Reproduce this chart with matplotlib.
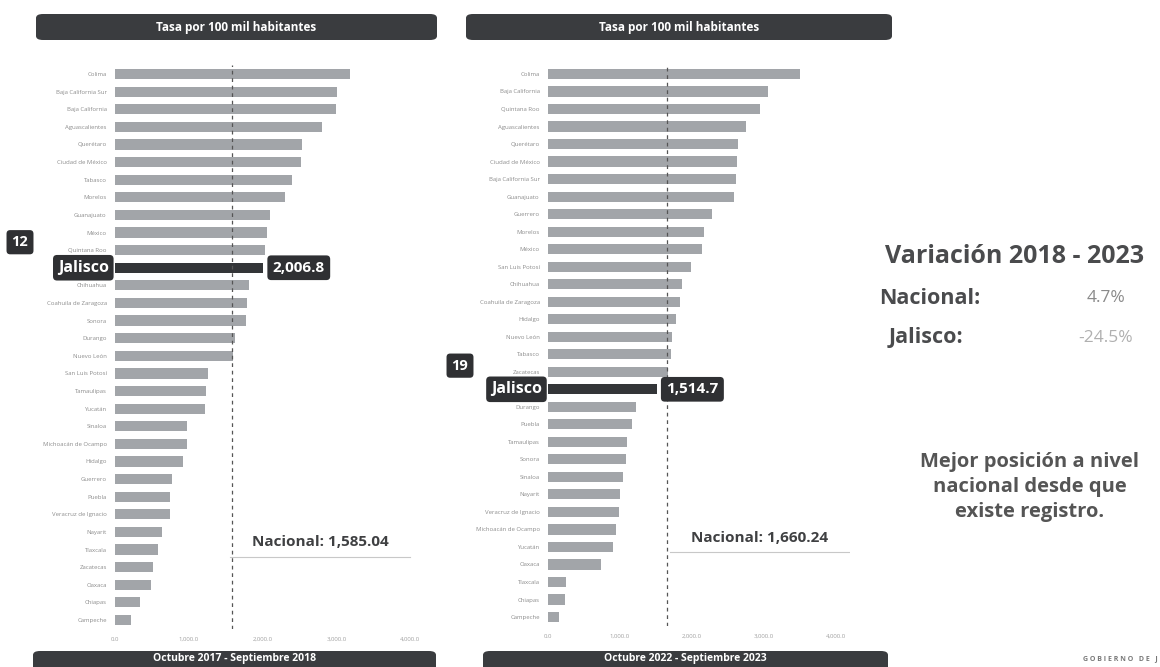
import numpy as np
import matplotlib.pyplot as plt
from matplotlib.patches import FancyBboxPatch
from matplotlib.transforms import blended_transform_factory

plt.rcParams['font.family'] = ['Open Sans', 'DejaVu Sans']

# DATOS - Oct 2017 - Sep 2018
estados_2018 = ["Colima", "Baja California Sur", "Baja California", "Aguascalientes",
                "Querétaro", "Ciudad de México", "Tabasco", "Morelos", "Guanajuato",
                "México", "Quintana Roo", "Jalisco", "Chihuahua", "Coahuila de Zaragoza",
                "Sonora", "Durango", "Nuevo León", "San Luis Potosí", "Tamaulipas",
                "Yucatán", "Sinaloa", "Michoacán de Ocampo", "Hidalgo", "Guerrero",
                "Puebla", "Veracruz de Ignacio", "Nayarit", "Tlaxcala", "Zacatecas",
                "Oaxaca", "Chiapas", "Campeche"]
tasa_2018 = [3190, 3010, 2990, 2800, 2530, 2520, 2400, 2300, 2100, 2060, 2030, 2006.8,
             1820, 1790, 1770, 1630, 1600, 1260, 1230, 1220, 970, 970, 920, 770,
             750, 740, 630, 580, 510, 490, 340, 220]
nacional_2018 = 1585.04

# DATOS - Oct 2022 - Sep 2023
estados_2023 = ["Colima", "Baja California", "Quintana Roo", "Aguascalientes", "Querétaro",
                "Ciudad de México", "Baja California Sur", "Guanajuato", "Guerrero",
                "Morelos", "México", "San Luis Potosí", "Chihuahua", "Coahuila de Zaragoza",
                "Hidalgo", "Nuevo León", "Tabasco", "Zacatecas", "Jalisco", "Durango",
                "Puebla", "Tamaulipas", "Sonora", "Sinaloa", "Nayarit",
                "Veracruz de Ignacio", "Michoacán de Ocampo", "Yucatán", "Oaxaca",
                "Tlaxcala", "Chiapas", "Campeche"]
tasa_2023 = [3500, 3055, 2945, 2750, 2640, 2625, 2610, 2580, 2280, 2170, 2140, 1990,
             1860, 1830, 1780, 1720, 1710, 1670, 1514.7, 1220, 1170, 1100, 1090, 1040,
             1000, 990, 940, 900, 740, 250, 240, 150]
nacional_2023 = 1660.24

ticks = [0, 1000, 2000, 3000, 4000]
tick_labels = ["0.0", "1,000.0", "2,000.0", "3,000.0", "4,000.0"]

GRIS = "#a2a5a9"
OSCURO = "#333538"
TEXTO = "#4a4b4d"

W, H = 1160, 667
fig = plt.figure(figsize=(W / 100, H / 100), dpi=100)
fig.patch.set_facecolor("white")


def px_rect(x0, y0, x1, y1):
    # caja en pixeles -> fraccion de figura [left, bottom, width, height]
    return [x0 / W, 1 - y1 / H, (x1 - x0) / W, (y1 - y0) / H]


def caja(x0, y0, x1, y1, texto, size=8.5, ty=None):
    l, b, w, h = px_rect(x0, y0, x1, y1)
    fig.patches.append(FancyBboxPatch((l, b), w, h, boxstyle="round,pad=0,rounding_size=0.006",
                                      transform=fig.transFigure, facecolor="#3a3c3f",
                                      edgecolor="none", zorder=0))
    yy = b + h / 2 if ty is None else 1 - ty / H
    fig.text(l + w / 2, yy, texto, ha="center", va="center", color="white",
             fontsize=size, fontweight="bold")


def panel(rect, estados, tasa, nacional, nombre, val_txt, nac_xy, linea_x):
    ax = fig.add_axes(rect)
    y = np.arange(len(estados))
    idx = estados.index(nombre)
    colores = [OSCURO if e == nombre else GRIS for e in estados]
    ax.barh(y, tasa, height=0.58, color=colores, zorder=2)
    ax.set_xlim(0, 4200)
    ax.set_ylim(len(estados) - 0.5, -0.5)
    ax.set_yticks(y)
    ax.set_yticklabels([e if e != nombre else "" for e in estados], fontsize=4.3, color="#8c8c8c")
    ax.set_xticks(ticks)
    ax.set_xticklabels(tick_labels, fontsize=4.3, color="#a0a0a0")
    ax.tick_params(length=0, pad=6)
    for s in ax.spines.values():
        s.set_visible(False)
    ax.axvline(nacional, color="#555555", lw=0.9, ls=(0, (3, 3)), zorder=3)

    tr = blended_transform_factory(ax.transAxes, ax.transData)
    ax.text(-0.02, idx, nombre, transform=tr, ha="right", va="center", color="white",
            fontsize=11.5, fontweight="bold",
            bbox=dict(boxstyle="round,pad=0.3,rounding_size=0.25", fc="#2f3033", ec="none"))
    ax.text(tasa[idx] + 130, idx, val_txt, ha="left", va="center", color="white",
            fontsize=11, fontweight="bold",
            bbox=dict(boxstyle="round,pad=0.35,rounding_size=0.25", fc="#2f3033", ec="none"))
    ax.text(nac_xy[0], nac_xy[1], "Nacional: " + f"{nacional:,.2f}", ha="center", va="center",
            color="#3f4042", fontsize=11, fontweight="bold")
    ax.plot(linea_x, [nac_xy[1] + 0.8] * 2, color="#c8c8c8", lw=0.8)
    return ax, idx


# Panel izquierdo
ax1, i1 = panel(px_rect(115, 65.2, 425, 628.8), estados_2018, tasa_2018, nacional_2018,
                "Jalisco", "2,006.8", (2780, 26.6), [1560, 4000])
tr1 = blended_transform_factory(fig.transFigure, ax1.transData)
ax1.text(20 / W, i1 - 1.45, "12", transform=tr1, ha="center", va="center", color="white",
         fontsize=10.5, fontweight="bold",
         bbox=dict(boxstyle="round,pad=0.35,rounding_size=0.25", fc="#2f3033", ec="none"))

# Panel derecho
ax2, i2 = panel(px_rect(548, 65.2, 850, 625.8), estados_2023, tasa_2023, nacional_2023,
                "Jalisco", "1,514.7", (2944, 26.5), [1690, 4190])
tr2 = blended_transform_factory(fig.transFigure, ax2.transData)
ax2.text(460 / W, i2 - 1.35, "19", transform=tr2, ha="center", va="center", color="white",
         fontsize=10.5, fontweight="bold",
         bbox=dict(boxstyle="round,pad=0.35,rounding_size=0.25", fc="#2f3033", ec="none"))

# Encabezados y pies
caja(36, 14, 437, 40, "Tasa por 100 mil habitantes")
caja(466, 14, 892, 40, "Tasa por 100 mil habitantes")
caja(33, 651, 436, 680, "Octubre 2017 - Septiembre 2018", size=7.5, ty=659)
caja(483, 651, 888, 680, "Octubre 2022 - Septiembre 2023", size=7.5, ty=659)

# Texto lateral
fig.text(1015 / W, 1 - 256 / H, "Variación 2018 - 2023", ha="center", va="center",
         color=TEXTO, fontsize=18, fontweight="bold")
fig.text(879 / W, 1 - 298 / H, "Nacional:", ha="left", va="center",
         color=TEXTO, fontsize=15.5, fontweight="bold")
fig.text(1106 / W, 1 - 298 / H, "4.7%", ha="center", va="center",
         color="#8a8a8a", fontsize=12.5)
fig.text(889 / W, 1 - 338 / H, "Jalisco:", ha="left", va="center",
         color=TEXTO, fontsize=15.5, fontweight="bold")
fig.text(1106 / W, 1 - 338 / H, "-24.5%", ha="center", va="center",
         color="#b0b0b0", fontsize=12.5)
fig.text(1030 / W, 1 - 487 / H, "Mejor posición a nivel\nnacional desde que\nexiste registro.",
         ha="center", va="center", color="#555555", fontsize=14.5, fontweight="bold",
         linespacing=1.3)
fig.text(1158 / W, 1 - 659 / H, "G O B I E R N O   D E   J", ha="right", va="center",
         color="#777777", fontsize=5, fontweight="bold")

fig.savefig("out.png", dpi=100)
